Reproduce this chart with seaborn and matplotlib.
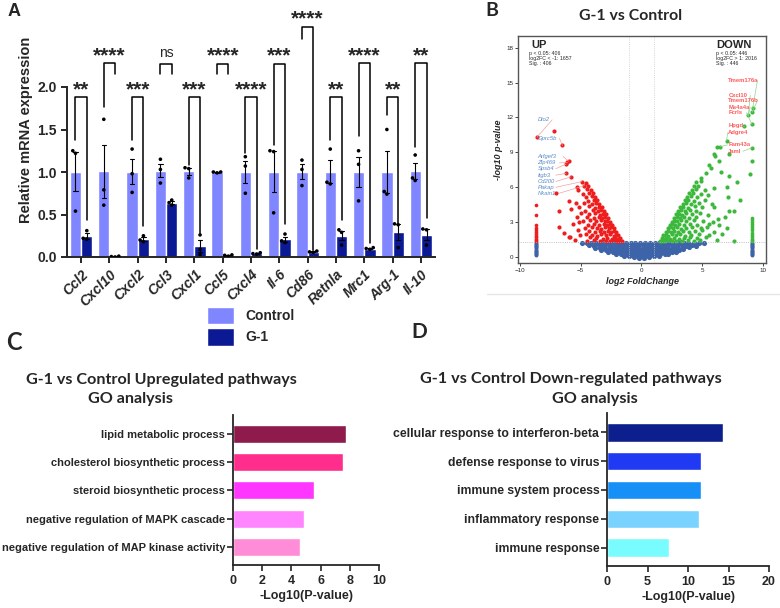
import numpy as np
import pandas as pd
import matplotlib
matplotlib.use("Agg")
import matplotlib.pyplot as plt
import seaborn as sns
from matplotlib.lines import Line2D

# ---- panel A: qPCR ----
genes = ["Ccl2", "Cxcl10", "Cxcl2", "Ccl3", "Cxcl1", "Ccl5", "Cxcl4",
         "Il-6", "Cd86", "Retnla", "Mrc1", "Arg-1", "Il-10"]
ctrl_pts = [[1.25, 1.22, 0.54], [1.62, 0.79, 0.61], [1.27, 0.98, 0.76],
            [1.15, 1.03, 0.87], [1.05, 1.04, 0.93], [1.00, 1.00, 0.99],
            [1.18, 1.07, 0.75], [1.25, 1.24, 0.52], [1.14, 1.03, 0.84],
            [1.27, 0.88, 0.86], [1.25, 1.09, 0.66], [1.50, 0.77, 0.74],
            [1.20, 0.93, 0.90]]
g1_pts = [[0.31, 0.22, 0.21], [0.01, 0.005, 0.0], [0.25, 0.20, 0.18],
          [0.67, 0.64, 0.61], [0.26, 0.09, 0.03], [0.025, 0.02, 0.01],
          [0.05, 0.04, 0.035], [0.27, 0.19, 0.17], [0.07, 0.06, 0.055],
          [0.32, 0.29, 0.14], [0.11, 0.10, 0.09], [0.39, 0.38, 0.11],
          [0.33, 0.32, 0.14]]
sig_labels = ["**", "****", "***", "ns", "***", "****", "****", "***",
              "****", "**", "****", "**", "**"]
bracket_top = [1.88, 2.28, 1.88, 2.27, 1.88, 2.27, 1.88, 2.27, 2.71, 1.88, 2.28, 1.88, 2.28]
leg_left = [1.38, 1.76, 1.38, 2.15, 1.08, 2.15, 1.22, 1.32, 2.56, 1.38, 1.42, 1.67, 1.30]
leg_right = [0.44, 2.15, 0.36, 2.15, 0.28, 2.15, 0.10, 0.39, 0.08, 0.44, 0.16, 0.40, 0.46]

# ---- panel B: volcano ----
up_points = [
    (-1.62, 1.36), (-1.85, 1.42), (-2.05, 1.38), (-2.3, 1.45), (-2.6, 1.37), (-2.95, 1.43),
    (-3.4, 1.39), (-3.9, 1.46), (-4.45, 1.41), (-5.5, 1.45),
    (-1.78, 1.62), (-1.95, 1.57), (-2.15, 1.66), (-2.45, 1.6), (-2.8, 1.65), (-3.2, 1.58),
    (-3.7, 1.63), (-4.2, 1.7), (-5.85, 1.72),
    (-1.92, 1.88), (-2.1, 1.93), (-2.3, 1.85), (-2.55, 1.95), (-2.9, 1.9), (-3.3, 1.97),
    (-3.65, 1.86), (-4.05, 1.92), (-4.55, 1.99), (-5.05, 1.88), (-6.0, 1.74),
    (-2.1, 2.18), (-2.3, 2.24), (-2.5, 2.15), (-2.75, 2.26), (-3.05, 2.2), (-3.45, 2.27),
    (-3.85, 2.16), (-4.3, 2.23), (-5.2, 2.3),
    (-2.28, 2.47), (-2.48, 2.55), (-2.7, 2.5), (-3.0, 2.57), (-3.3, 2.45), (-3.65, 2.53),
    (-4.1, 2.58), (-4.65, 2.49), (-6.4, 2.1), (-6.75, 2.55),
    (-2.45, 2.78), (-2.62, 2.84), (-2.82, 2.76), (-3.12, 2.86), (-3.5, 2.8), (-3.92, 2.88),
    (-4.4, 2.79), (-5.1, 2.98), (-5.6, 2.82),
    (-2.6, 3.06), (-2.8, 3.14), (-3.02, 3.08), (-3.32, 3.16), (-3.72, 3.1), (-4.2, 3.18), (-4.8, 3.12),
    (-2.78, 3.38), (-2.98, 3.44), (-3.22, 3.36), (-3.52, 3.46), (-3.92, 3.4), (-4.5, 3.47), (-5.3, 3.42),
    (-2.95, 3.68), (-3.15, 3.74), (-3.42, 3.66), (-3.82, 3.76), (-4.32, 3.7), (-5.0, 3.78),
    (-3.1, 3.98), (-3.3, 4.05), (-3.6, 3.96), (-4.02, 4.06), (-4.62, 4.0), (-5.8, 4.1), (-6.8, 3.95),
    (-3.28, 4.28), (-3.5, 4.34), (-3.82, 4.26), (-4.3, 4.36), (-5.1, 4.3),
    (-3.48, 4.58), (-3.72, 4.64), (-4.1, 4.56), (-4.7, 4.66), (-5.4, 4.66),
    (-3.66, 4.88), (-3.9, 4.95), (-4.4, 4.86), (-6.0, 4.8),
    (-3.84, 5.18), (-4.1, 5.24), (-4.6, 5.16),
    (-4.0, 5.48), (-4.3, 5.55), (-4.8, 5.46), (-7.0, 5.5),
    (-4.18, 5.78), (-4.5, 5.84), (-5.2, 5.76),
    (-4.38, 6.08), (-4.7, 6.14), (-5.3, 6.05),
    (-4.6, 6.38), (-4.9, 6.5),
    (-5.8, 6.9), (-6.2, 7.2), (-6.2, 8.0), (-6.1, 8.15), (-6.0, 8.25),
    (-6.5, 9.6), (-7.2, 10.8), (-8.6, 10.3)]
down_points = [
    (1.5, 1.36), (1.72, 1.42), (1.93, 1.38), (2.2, 1.45), (2.5, 1.37), (2.88, 1.43), (3.3, 1.39),
    (3.8, 1.46), (4.3, 1.41), (4.8, 1.44), (6.2, 1.48), (7.6, 1.4),
    (1.65, 1.62), (1.83, 1.57), (2.03, 1.66), (2.32, 1.6), (2.7, 1.65), (3.1, 1.58), (3.52, 1.63),
    (4.02, 1.7), (4.6, 1.64), (5.3, 1.75),
    (1.8, 1.88), (2.0, 1.93), (2.22, 1.85), (2.5, 1.95), (2.82, 1.9), (3.2, 1.97), (3.6, 1.86),
    (4.1, 1.92), (4.7, 1.99), (5.6, 1.9), (6.6, 2.0),
    (1.98, 2.18), (2.18, 2.24), (2.4, 2.15), (2.68, 2.26), (3.0, 2.2), (3.4, 2.27), (3.9, 2.16),
    (4.4, 2.23), (5.0, 2.3), (6.0, 2.2),
    (2.15, 2.47), (2.36, 2.55), (2.6, 2.5), (2.9, 2.57), (3.28, 2.45), (3.7, 2.53), (4.2, 2.58),
    (4.9, 2.49), (5.4, 2.6), (7.0, 2.5),
    (2.32, 2.78), (2.52, 2.84), (2.76, 2.76), (3.08, 2.86), (3.48, 2.8), (3.98, 2.88), (4.6, 2.79),
    (5.6, 2.88), (6.4, 2.75),
    (2.5, 3.06), (2.7, 3.14), (2.95, 3.08), (3.28, 3.16), (3.68, 3.1), (4.3, 3.18), (5.1, 3.12), (5.9, 3.05),
    (2.68, 3.38), (2.9, 3.44), (3.15, 3.36), (3.48, 3.46), (3.9, 3.4), (4.5, 3.47), (6.3, 3.3), (6.9, 3.45),
    (2.86, 3.68), (3.06, 3.74), (3.32, 3.66), (3.7, 3.76), (4.2, 3.7), (4.8, 3.78), (5.5, 3.65),
    (3.04, 3.98), (3.25, 4.05), (3.56, 3.96), (4.0, 4.06), (4.5, 4.0), (6.0, 4.3), (7.2, 4.0), (7.6, 3.97),
    (3.2, 4.28), (3.45, 4.34), (3.85, 4.26), (4.4, 4.36), (5.0, 4.3), (5.8, 4.6),
    (3.4, 4.58), (3.65, 4.64), (4.05, 4.56), (4.7, 4.66),
    (3.58, 4.88), (3.85, 4.95), (4.3, 4.86), (5.2, 4.9), (8.1, 4.94),
    (3.76, 5.18), (4.05, 5.24), (4.6, 5.16), (5.5, 5.3), (7.1, 5.2),
    (3.95, 5.48), (4.25, 5.55), (4.9, 5.46),
    (4.12, 5.78), (4.45, 5.84), (5.2, 5.76), (6.0, 5.9),
    (4.3, 6.08), (4.65, 6.14), (7.0, 6.0),
    (4.5, 6.45), (4.9, 6.55), (7.9, 6.45),
    (4.9, 6.83), (7.24, 6.94),
    (5.3, 7.2), (6.56, 7.3), (8.9, 7.17),
    (5.6, 7.9), (5.7, 7.7),
    (6.4, 8.3), (9.1, 8.23),
    (6.05, 8.7), (7.2, 8.9), (6.0, 8.83),
    (6.25, 9.5), (6.5, 9.5), (7.0, 10.0), (9.1, 9.4), (8.4, 11.3), (9.1, 11.4),
    (8.8, 12.2), (9.1, 12.45), (9.15, 12.8)]
ns_points = [
    (-4.92, 1.24), (-4.48, 1.2), (-4.13, 1.25), (-3.71, 1.19), (-3.28, 1.23), (-2.93, 1.21),
    (-2.47, 1.25), (-2.12, 1.18), (-1.68, 1.22), (-1.31, 1.24), (-0.87, 1.2), (-0.52, 1.23),
    (-0.08, 1.19), (0.33, 1.24), (0.69, 1.21), (1.12, 1.25), (1.47, 1.2), (1.93, 1.23),
    (2.28, 1.19), (2.71, 1.24), (3.08, 1.21), (3.52, 1.25), (3.87, 1.2), (4.31, 1.23),
    (4.72, 1.21), (5.12, 1.25),
    (-4.33, 1.02), (-3.92, 0.98), (-3.5, 1.03), (-3.08, 0.99), (-2.71, 1.01), (-2.29, 0.97),
    (-1.9, 1.02), (-1.48, 0.99), (-1.1, 1.03), (-0.69, 0.98), (-0.3, 1.0), (0.11, 1.02),
    (0.52, 0.97), (0.9, 1.01), (1.31, 0.99), (1.72, 1.03), (2.1, 0.98), (2.52, 1.02),
    (2.9, 0.99), (3.32, 1.01), (3.7, 0.97), (4.12, 1.03), (4.52, 1.0),
    (-3.84, 0.8), (-3.41, 0.78), (-3.02, 0.83), (-2.6, 0.79), (-2.2, 0.82), (-1.79, 0.77),
    (-1.38, 0.81), (-0.98, 0.79), (-0.6, 0.83), (-0.18, 0.78), (0.2, 0.8), (0.62, 0.82),
    (1.0, 0.77), (1.41, 0.81), (1.8, 0.79), (2.22, 0.83), (2.6, 0.78), (3.0, 0.8),
    (3.42, 0.82), (3.95, 0.86),
    (-3.32, 0.62), (-2.9, 0.59), (-2.51, 0.61), (-2.1, 0.58), (-1.7, 0.62), (-1.29, 0.6),
    (-0.9, 0.57), (-0.49, 0.61), (-0.1, 0.59), (0.31, 0.62), (0.7, 0.58), (1.1, 0.6),
    (1.52, 0.61), (1.9, 0.58), (2.31, 0.62), (2.72, 0.6), (3.1, 0.63), (3.42, 0.66),
    (-2.74, 0.44), (-2.33, 0.41), (-1.92, 0.43), (-1.52, 0.4), (-1.1, 0.42), (-0.71, 0.39),
    (-0.3, 0.43), (0.09, 0.41), (0.5, 0.4), (0.91, 0.43), (1.3, 0.41), (1.72, 0.42),
    (2.1, 0.4), (2.5, 0.44), (2.82, 0.46),
    (-2.1, 0.27), (-1.7, 0.24), (-1.3, 0.26), (-0.9, 0.23), (-0.5, 0.25), (-0.1, 0.22),
    (0.3, 0.26), (0.7, 0.24), (1.1, 0.25), (1.5, 0.27), (1.9, 0.28), (2.2, 0.31),
    (-1.42, 0.12), (-1.02, 0.1), (-0.6, 0.08), (-0.2, 0.06), (0.2, 0.07), (0.6, 0.09),
    (1.0, 0.11), (1.45, 0.14),
    (-0.6, 0.02), (-0.2, -0.05), (0.2, -0.04), (0.6, 0.01)]
strip_left_fc, strip_right_fc = -8.67, 9.11
strip_left_up = [4.45, 3.6, 2.8, 2.5, 2.3, 2.15, 2.0, 1.85, 1.7, 1.55, 1.45, 1.35]
strip_right_down = [3.35, 3.2, 3.0, 2.85, 2.7, 2.5, 2.3, 2.1, 1.9, 1.75, 1.6, 1.45, 1.35]
strip_ns = [1.25, 1.15, 1.05, 0.95, 0.85, 0.75, 0.65, 0.55, 0.45, 0.35, 0.25, 0.15]

left_genes = ["Dio2", "Gprc5b", "Arfgef3", "Zfp469", "Spsb4", "Itgb3", "Cd200", "Pakap", "Nkain1"]
left_label_y = [11.8, 10.2, 8.65, 8.1, 7.6, 7.05, 6.5, 6.0, 5.5]
left_targets = [(-8.6, 10.3), (-6.5, 9.6), (-6.0, 8.25), (-6.1, 8.15), (-6.2, 8.0),
                (-6.2, 7.2), (-5.8, 6.9), (-4.9, 6.5), (-4.7, 6.14)]
right_genes = ["Tmem176a", "Cxcl10", "Tmem176b", "Ms4a4a", "Fcrls", "Hpgd", "Adgre4", "Fam43a", "Jaml"]
right_label_y = [15.2, 13.9, 13.45, 12.9, 12.4, 11.3, 10.7, 9.65, 9.1]
right_targets = [(9.15, 12.8), (8.8, 12.2), (9.1, 12.45), (8.8, 12.2), (9.1, 11.4),
                 (8.4, 11.3), (7.0, 10.0), (6.5, 9.5), (9.1, 9.4)]

# ---- panels C / D: GO ----
up_terms = ["lipid metabolic process", "cholesterol biosynthetic process",
            "steroid biosynthetic process", "negative regulation of MAPK cascade",
            "negative regulation of MAP kinase activity"]
up_logp = [7.75, 7.55, 5.55, 4.85, 4.62]
up_colors = ["#8F1A4C", "#FF2D8C", "#FF36FF", "#FF85FF", "#FF8CD6"]
down_terms = ["cellular response to interferon-beta", "defense response to virus",
              "immune system process", "inflammatory response", "immune response"]
down_logp = [14.27, 11.6, 11.55, 11.3, 7.67]
down_colors = ["#0D1F8C", "#1F3AF2", "#168FF7", "#7AD3FF", "#79FCFF"]

ctrl_c, g1_c = "#7F86FF", "#0B1A94"
up_c, down_c, ns_c = "#EE1E1E", "#3CB93C", "#3D64A8"

sns.set_theme(style="ticks")
plt.rcParams['font.family'] = ['Liberation Sans', 'DejaVu Sans']
plt.rcParams['axes.linewidth'] = 1.4

fig = plt.figure(figsize=(7.8, 6.08), dpi=100)
W, H = 780, 608


def box(l, t, r, b):
    return [l / W, 1 - b / H, (r - l) / W, (b - t) / H]


# ================= A =================
axA = fig.add_axes(box(67, 2, 435, 257))
rows = []
for g, c, t in zip(genes, ctrl_pts, g1_pts):
    rows += [{"gene": g, "group": "Control", "expr": v} for v in c]
    rows += [{"gene": g, "group": "G-1", "expr": v} for v in t]
dfA = pd.DataFrame(rows)
sns.barplot(data=dfA, x="gene", y="expr", hue="group", order=genes,
            hue_order=["Control", "G-1"], palette=[ctrl_c, g1_c], errorbar="se",
            capsize=0.3, err_kws={"color": "black", "linewidth": 0.8},
            saturation=1, width=0.8, ax=axA)
sns.swarmplot(data=dfA, x="gene", y="expr", hue="group", order=genes,
              hue_order=["Control", "G-1"], palette=["black", "black"], dodge=True,
              size=2.6, legend=False, ax=axA)
axA.set_xlim(-0.5, 12.5)
axA.set_ylim(0, 3.0)
axA.set_yticks([0, 0.5, 1.0, 1.5, 2.0])
axA.set_yticklabels(["0.0", "0.5", "1.0", "1.5", "2.0"], fontsize=10, fontweight="bold")
axA.spines[["top", "right"]].set_visible(False)
axA.spines["left"].set_bounds(0, 2.0)
axA.tick_params(axis="both", length=4, width=1.4)
axA.set_xticks(range(len(genes)))
axA.set_xticklabels(genes, rotation=45, ha="right", rotation_mode="anchor",
                    fontsize=10, fontweight="bold", fontstyle="italic")
axA.set_xlabel("")
axA.set_ylabel("Relative mRNA expression", fontsize=10.5, fontweight="bold", labelpad=3)
for i in range(len(genes)):
    xl, xr = i - 0.2, i + 0.2
    axA.plot([xl, xl, xr, xr], [leg_left[i], bracket_top[i], bracket_top[i], leg_right[i]],
             color="black", lw=1.1, clip_on=False)
    if sig_labels[i] == "ns":
        axA.text(i, bracket_top[i] + 0.05, "ns", ha="center", va="bottom", fontsize=10)
    else:
        axA.text(i, bracket_top[i] - 0.02, sig_labels[i], ha="center", va="bottom",
                 fontsize=15, fontweight="bold")
sns.move_legend(axA, "upper left", bbox_to_anchor=(194 / W, 1 - 294 / H),
                bbox_transform=fig.transFigure, frameon=False, title=None,
                prop={"weight": "bold", "size": 10}, handlelength=2.0,
                handleheight=1.6, labelspacing=0.25, handletextpad=0.8)

# ================= B =================
axB = fig.add_axes(box(518, 36, 766, 263))
axB.set_xlim(-10.16, 10.25)
axB.set_ylim(-0.5, 19.0)
for v in (-1, 1):
    axB.axvline(v, color="#c8c8c8", lw=0.6, ls=":")
axB.axhline(1.3, color="#aaaaaa", lw=0.6, ls=":")
ns_arr = np.array(ns_points)
up_arr = np.array(up_points)
dn_arr = np.array(down_points)
sns.scatterplot(x=ns_arr[:, 0], y=ns_arr[:, 1], color=ns_c, s=14, linewidth=0, ax=axB)
sns.scatterplot(x=[strip_left_fc] * len(strip_ns) + [strip_right_fc] * len(strip_ns),
                y=strip_ns + strip_ns, color=ns_c, s=8, linewidth=0, ax=axB)
sns.scatterplot(x=up_arr[:, 0], y=up_arr[:, 1], color=up_c, s=9, linewidth=0, ax=axB)
sns.scatterplot(x=[strip_left_fc] * len(strip_left_up), y=strip_left_up, color=up_c,
                s=7, linewidth=0, ax=axB)
sns.scatterplot(x=dn_arr[:, 0], y=dn_arr[:, 1], color=down_c, s=9, linewidth=0, ax=axB)
sns.scatterplot(x=[strip_right_fc] * len(strip_right_down), y=strip_right_down,
                color=down_c, s=7, linewidth=0, ax=axB)
for sp in axB.spines.values():
    sp.set_color("#555555")
    sp.set_linewidth(1.0)
axB.set_xticks([-10, -5, 0, 5, 10])
axB.set_yticks([0, 3, 6, 9, 12, 15, 18])
axB.tick_params(labelsize=4.5, length=2, width=0.6, pad=1.5)
axB.set_xlabel("log2 FoldChange", fontsize=6.5, fontweight="bold", fontstyle="italic", labelpad=3)
axB.set_ylabel("-log10 p-value", fontsize=6.5, fontweight="bold", fontstyle="italic", labelpad=2)

for name, ly, (tx, ty) in zip(left_genes, left_label_y, left_targets):
    axB.text(-8.55, ly, name, fontsize=4.2, color="#5B8BC9", fontstyle="italic",
             ha="left", va="center")
    axB.plot([-8.55 + 0.3 * len(name), tx], [ly, ty], color="#F4A0A0", lw=0.5)
for name, ly, (tx, ty) in zip(right_genes, right_label_y, right_targets):
    axB.text(7.15, ly, name, fontsize=4.2, color="#FF5A5A", fontweight="bold",
             ha="left", va="center")
    sx = 7.1 if tx < 7.15 else 7.15 + 0.3 * len(name)
    axB.plot([sx, tx], [ly, ty], color="#8FD68F", lw=0.5)
axB.text(-9.05, 18.25, "UP", fontsize=8, fontweight="bold", ha="left", va="center")
axB.text(-9.27, 17.7, "p < 0.05: 406\nlog2FC < -1: 1657\nSig. : 406", fontsize=3.8,
         ha="left", va="top", linespacing=1.0)
axB.text(6.15, 18.25, "DOWN", fontsize=8, fontweight="bold", ha="left", va="center")
axB.text(6.1, 17.7, "p < 0.05: 446\nlog2FC > 1: 2016\nSig. : 446", fontsize=3.8,
         ha="left", va="top", linespacing=1.0)
fig.add_artist(Line2D([487 / W, 1.0], [1 - 294 / H] * 2, color="#e6e6e6", lw=1))


# ================= C / D =================
def go_panel(ax, terms, vals, colors, xmax, step, lab_size):
    sns.barplot(x=vals, y=terms, hue=terms, palette=colors, legend=False, orient="h",
                width=0.64, saturation=1, ax=ax)
    ax.set_xlim(0, xmax)
    ax.set_ylim(4.64, -0.67)
    ax.set_xticks(np.arange(0, xmax + 1, step))
    ax.spines[["top", "right"]].set_visible(False)
    ax.spines[["left", "bottom"]].set_linewidth(1.3)
    ax.tick_params(axis="both", length=4, width=1.2)
    ax.tick_params(axis="x", labelsize=9)
    ax.tick_params(axis="y", labelsize=lab_size, pad=1.5)
    for lab in ax.get_xticklabels() + ax.get_yticklabels():
        lab.set_fontweight("bold")
    ax.set_xlabel("-Log10(P-value)", fontsize=9, fontweight="bold", labelpad=2)
    ax.set_ylabel("")


axC = fig.add_axes(box(233, 415, 379, 565))
go_panel(axC, up_terms, up_logp, up_colors, 10, 2, 8.0)
axD = fig.add_axes(box(607, 413, 769, 566))
go_panel(axD, down_terms, down_logp, down_colors, 20, 5, 8.8)

tfont = ["Lato", "DejaVu Sans"]
fig.text(161 / W, 1 - 380 / H, "G-1 vs Control Upregulated pathways", ha="center", va="center",
         fontsize=11.6, fontweight="bold", family=tfont)
fig.text(131 / W, 1 - 399 / H, "GO analysis", ha="center", va="center",
         fontsize=11.6, fontweight="bold", family=tfont)
fig.text(571 / W, 1 - 379 / H, "G-1 vs Control Down-regulated pathways", ha="center", va="center",
         fontsize=11.7, fontweight="bold", family=tfont)
fig.text(595 / W, 1 - 399 / H, "GO analysis", ha="center", va="center",
         fontsize=11.7, fontweight="bold", family=tfont)
fig.text(631 / W, 1 - 16 / H, "G-1 vs Control", ha="center", va="center",
         fontsize=11.4, fontweight="bold", family=tfont)

fig.text(8 / W, 1 - 11 / H, "A", fontsize=13, fontweight="bold", va="center")
fig.text(485 / W, 1 - 11 / H, "B", fontsize=14, fontweight="bold", va="center", family=tfont)
fig.text(6 / W, 1 - 342 / H, "C", fontsize=17, fontweight="bold", va="center", family=tfont)
fig.text(411 / W, 1 - 332 / H, "D", fontsize=15, fontweight="bold", va="center", family=tfont)

fig.savefig("out.png", dpi=100)
